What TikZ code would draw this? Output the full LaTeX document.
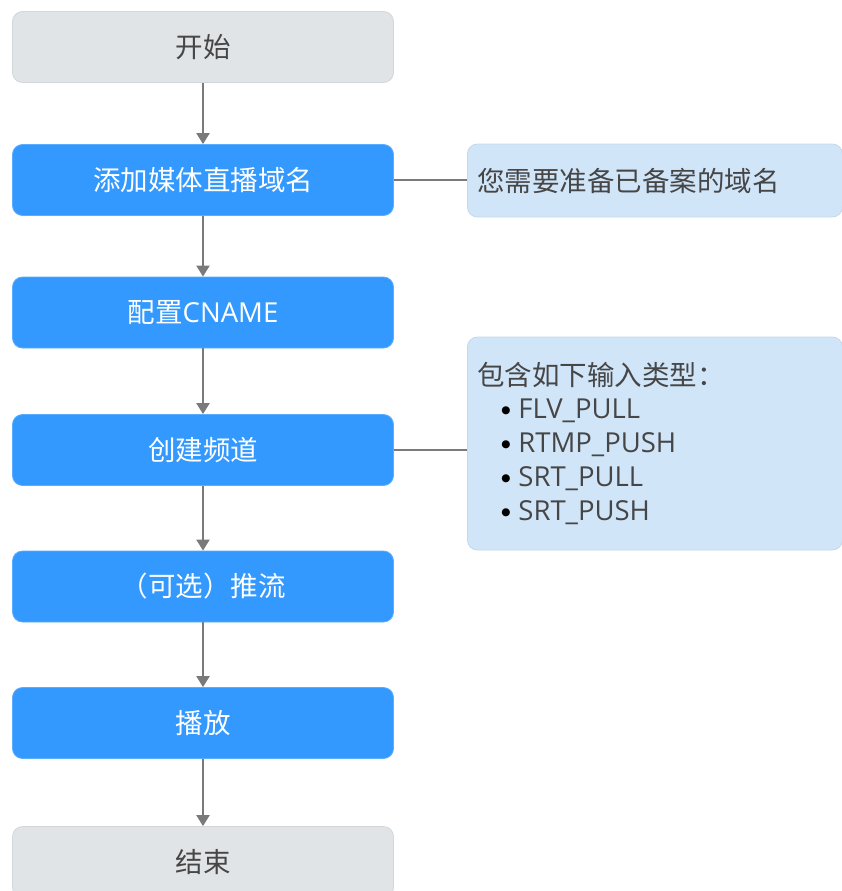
\documentclass[tikz,border=0pt]{standalone}
\usepackage{fontspec}
\setmainfont{Noto Sans CJK SC}
\newfontfamily\latinfont{Open Sans}
\newfontfamily\symfont{DejaVu Sans}
\usetikzlibrary{arrows.meta}
\definecolor{stepblue}{HTML}{3399FF}
\definecolor{stepblueedge}{HTML}{5AADFF}
\definecolor{termgray}{HTML}{E1E4E6}
\definecolor{termedge}{HTML}{D4D7DA}
\definecolor{notefill}{HTML}{D1E5F8}
\definecolor{noteedge}{HTML}{C4D8EC}
\definecolor{linkgray}{HTML}{7A7A7A}
\definecolor{txtdark}{HTML}{464646}
\newcommand{\bulletitem}[1]{\hspace*{24pt}\makebox[17pt][l]{\raisebox{5.5pt}{\symfont\fontsize{10.5}{10.5}\selectfont\color{black}●}}{\latinfont #1}}
\tikzset{
  basebox/.style={rectangle, rounded corners=10pt, minimum width=381pt, minimum height=71pt, inner sep=0pt, font=\fontsize{27.5}{32}\selectfont},
  stepbox/.style={basebox, fill=stepblue, draw=stepblueedge, line width=0.8pt, text=white},
  termbox/.style={basebox, fill=termgray, draw=termedge, line width=0.8pt, text=txtdark},
  notebox/.style={rectangle, rounded corners=10pt, fill=notefill, draw=noteedge, line width=0.8pt, text=txtdark, anchor=west, minimum width=375pt, text width=355pt, inner xsep=10pt, align=left, font=\fontsize{27.5}{34}\selectfont},
  flow/.style={draw=linkgray, line width=2pt, -{Triangle[length=11pt,width=13pt]}},
  link/.style={draw=linkgray, line width=1.6pt}
}
\begin{document}
\begin{tikzpicture}[x=1pt,y=-1pt]
\useasboundingbox (0,0) rectangle (842,891);
\begin{scope}
\clip (0,0) rectangle (842,891);
\node[termbox] (start) at (203,47) {开始};
\node[stepbox] (add) at (203,180) {添加媒体直播域名};
\node[stepbox] (cname) at (203,312.5) {配置{\latinfont CNAME}};
\node[stepbox] (chan) at (203,450) {创建频道};
\node[stepbox] (push) at (203,586.5) {（可选）推流};
\node[stepbox] (play) at (203,723) {播放};
\node[termbox] (end) at (203,862) {结束};

\node[notebox, minimum height=73pt] (note1) at (467,180.5) {您需要准备已备案的域名};
\node[notebox, minimum height=213pt] (note2) at (467,443.5) {包含如下输入类型：\\[-1pt]
\bulletitem{FLV\_PULL}\\
\bulletitem{RTMP\_PUSH}\\
\bulletitem{SRT\_PULL}\\
\bulletitem{SRT\_PUSH}};

\draw[flow] (start.south) -- (add.north);
\draw[flow] (add.south) -- (cname.north);
\draw[flow] (cname.south) -- (chan.north);
\draw[flow] (chan.south) -- (push.north);
\draw[flow] (push.south) -- (play.north);
\draw[flow] (play.south) -- (end.north);

\draw[link] (add.east) -- (add.east -| note1.west);
\draw[link] (chan.east) -- (chan.east -| note2.west);
\end{scope}
\end{tikzpicture}
\end{document}
